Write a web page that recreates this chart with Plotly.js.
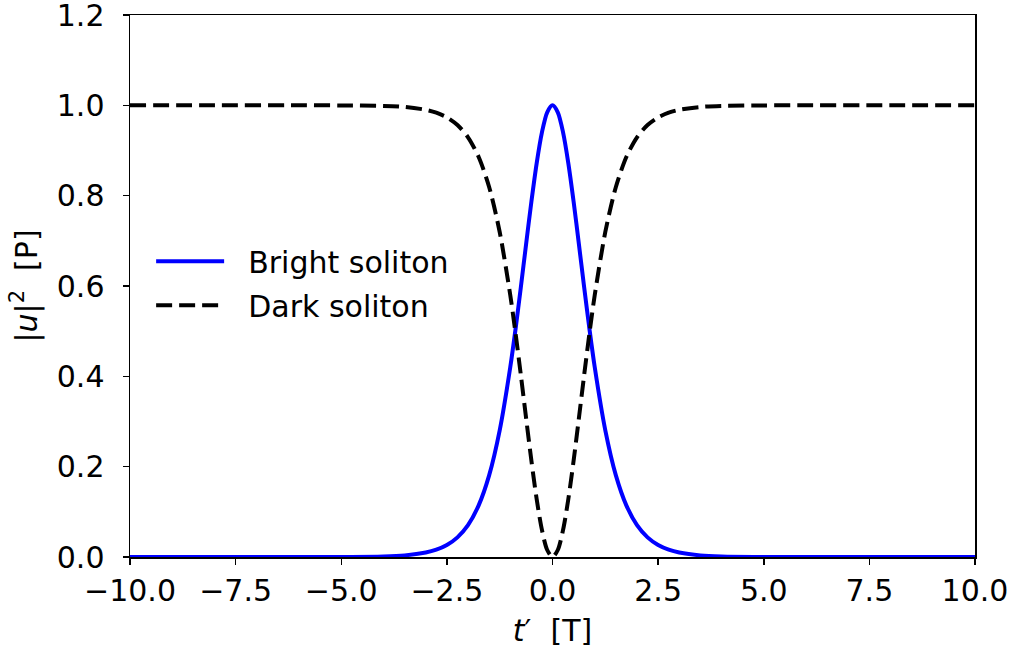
<!DOCTYPE html>
<html><head><meta charset="utf-8">
<script src="https://cdn.plot.ly/plotly-3.0.1.min.js"></script>
<style>html,body{margin:0;padding:0;background:#fff}#chart{width:1019px;height:652px}</style>
</head><body><div id="chart"></div>
<script>
// t' values [T]
const tValues = [-10, -8, -6, -5, -4, -3.5, -3, -2.75, -2.5, -2.25, -2, -1.75, -1.5, -1.25, -1, -0.875, -0.75, -0.625, -0.5, -0.375, -0.25, -0.125, 0,
                 0.125, 0.25, 0.375, 0.5, 0.625, 0.75, 0.875, 1, 1.25, 1.5, 1.75, 2, 2.25, 2.5, 2.75, 3, 3.5, 4, 5, 6, 8, 10];
// |u|^2 [P]
const brightValues = [0, 0, 0.00002, 0.0002, 0.0013, 0.0036, 0.0099, 0.0162, 0.0266, 0.0435, 0.0707, 0.1138, 0.1807, 0.2804, 0.42, 0.5045, 0.5966, 0.6924, 0.7864, 0.8716, 0.9401, 0.9845, 1,
                      0.9845, 0.9401, 0.8716, 0.7864, 0.6924, 0.5966, 0.5045, 0.42, 0.2804, 0.1807, 0.1138, 0.0707, 0.0435, 0.0266, 0.0162, 0.0099, 0.0036, 0.0013, 0.0002, 0.00002, 0, 0];
const darkValues = [1, 1, 0.99998, 0.9998, 0.9987, 0.9964, 0.9901, 0.9838, 0.9734, 0.9565, 0.9293, 0.8862, 0.8193, 0.7196, 0.58, 0.4955, 0.4034, 0.3076, 0.2136, 0.1284, 0.0599, 0.0155, 0,
                    0.0155, 0.0599, 0.1284, 0.2136, 0.3076, 0.4034, 0.4955, 0.58, 0.7196, 0.8193, 0.8862, 0.9293, 0.9565, 0.9734, 0.9838, 0.9901, 0.9964, 0.9987, 0.9998, 0.99998, 1, 1];
const seriesNames = ["Bright soliton", "Dark soliton"];
const xTicks = [-10, -7.5, -5, -2.5, 0, 2.5, 5, 7.5, 10];
const yTicks = [0, 0.2, 0.4, 0.6, 0.8, 1.0, 1.2];

const FONT = "DejaVu Sans";
const FS = 30;
const traces = [
  {x: tValues, y: brightValues, name: "\u00a0\u00a0" + seriesNames[0], type: "scatter", mode: "lines",
   line: {color: "#0000ff", width: 4, shape: "spline", smoothing: 0.8}, legendgroup: "a"},
  {x: tValues, y: darkValues, name: "\u00a0\u00a0" + seriesNames[1], type: "scatter", mode: "lines",
   line: {color: "#000000", width: 4, dash: "16px,7px", shape: "spline", smoothing: 0.8}, legendgroup: "b"}
];
const axisCommon = {
  showgrid: false, zeroline: false, showline: true, mirror: true,
  linecolor: "#000", linewidth: 1.5, ticks: "outside", ticklen: 6, tickwidth: 1.5, tickcolor: "#000",
  tickfont: {family: FONT, size: FS, color: "#000"}, tickformat: ".1f", ticklabeloverflow: "allow"
};
const layout = {
  width: 1019, height: 652,
  margin: {l: 130, r: 44, t: 15, b: 95},
  paper_bgcolor: "#fff", plot_bgcolor: "#fff",
  font: {family: FONT, color: "#000"},
  xaxis: Object.assign({}, axisCommon, {range: [-10, 10], tickvals: xTicks, ticklabelstandoff: 0,
    title: {text: "<i>t</i>′\u00a0\u00a0[T]", font: {family: FONT, size: FS}, standoff: 13}}),
  yaxis: Object.assign({}, axisCommon, {range: [0, 1.2000001], tickvals: yTicks, ticklabelstandoff: 12,
    title: {text: "|<i>u</i>|<sup>2</sup>\u00a0\u00a0[P]", font: {family: FONT, size: FS}, standoff: 10}}),
  showlegend: true,
  legend: {x: 0.025, y: 0.505, xanchor: "left", yanchor: "middle", bgcolor: "rgba(0,0,0,0)",
    font: {family: FONT, size: FS, color: "#000"}, traceorder: "grouped", tracegroupgap: 2, itemwidth: 68}
};
Plotly.newPlot("chart", traces, layout, {displayModeBar: false, staticPlot: true});
</script></body></html>
